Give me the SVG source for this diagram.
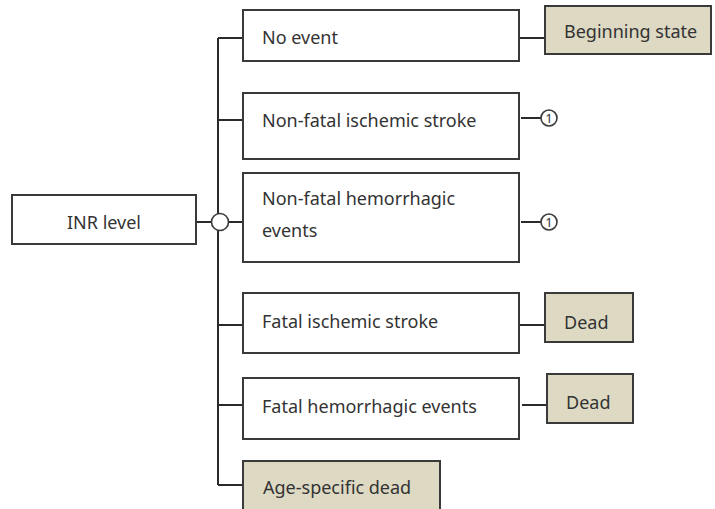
<svg xmlns="http://www.w3.org/2000/svg" width="715" height="509" viewBox="0 0 715 509">
<style>
.box{fill:#ffffff;stroke:#3a3a3a;stroke-width:2}
.st{fill:#DDD9C3;stroke:#3a3a3a;stroke-width:2}
.t{font-family:"Noto Sans","DejaVu Sans",sans-serif;font-size:18px;fill:#333333}
.ln{fill:none;stroke:#2a2a2a;stroke-width:2}
.c{fill:#ffffff;stroke:#3a3a3a;stroke-width:1.6}
.n{font-family:"Noto Sans","DejaVu Sans",sans-serif;font-size:13px;fill:#333333}
</style>
<rect width="715" height="509" fill="#ffffff"/>
<g id="connectors">
<path class="ln" d="M196 222H212"/>
<path class="ln" d="M218 38V485"/>
<path class="ln" d="M228 222H243"/>
<path class="ln" d="M218 38H243"/>
<path class="ln" d="M218 120H243"/>
<path class="ln" d="M218 325H243"/>
<path class="ln" d="M218 405H243"/>
<path class="ln" d="M218 485H243"/>
<path class="ln" d="M519 38H545"/>
<path class="ln" d="M521 118H541"/>
<path class="ln" d="M521 222H541"/>
<path class="ln" d="M519 325H545"/>
<path class="ln" d="M522 405H547"/>
</g>
<g id="chance">
<circle class="c" cx="220" cy="222" r="8.5"/>
</g>
<g id="inr">
<rect class="box" x="12" y="195" width="184" height="49"/>
<text class="t" x="104" y="229" text-anchor="middle">INR level</text>
</g>
<g id="no-event">
<rect class="box" x="243" y="10" width="276" height="51"/>
<text class="t" x="262" y="44">No event</text>
</g>
<g id="beginning">
<rect class="st" x="545" y="6" width="166" height="48"/>
<text class="t" x="564" y="38">Beginning state</text>
</g>
<g id="nf-ischemic">
<rect class="box" x="243" y="93" width="276" height="66"/>
<text class="t" x="262" y="127">Non-fatal ischemic stroke</text>
</g>
<g id="ref1a">
<circle class="c" cx="549" cy="118" r="8"/>
<text class="n" x="549" y="122.5" text-anchor="middle">1</text>
</g>
<g id="nf-hemorrhagic">
<rect class="box" x="243" y="173" width="276" height="89"/>
<text class="t" x="262" y="205">Non-fatal hemorrhagic</text>
<text class="t" x="262" y="237">events</text>
</g>
<g id="ref1b">
<circle class="c" cx="549" cy="222" r="8"/>
<text class="n" x="549" y="226.5" text-anchor="middle">1</text>
</g>
<g id="f-ischemic">
<rect class="box" x="243" y="293" width="276" height="60"/>
<text class="t" x="262" y="328">Fatal ischemic stroke</text>
</g>
<g id="dead1">
<rect class="st" x="545" y="293" width="88" height="49"/>
<text class="t" x="564" y="329">Dead</text>
</g>
<g id="f-hemorrhagic">
<rect class="box" x="243" y="378" width="276" height="61"/>
<text class="t" x="262" y="413">Fatal hemorrhagic events</text>
</g>
<g id="dead2">
<rect class="st" x="547" y="374" width="86" height="49"/>
<text class="t" x="566" y="409">Dead</text>
</g>
<g id="age-dead">
<rect class="st" x="243" y="461" width="197" height="52"/>
<text class="t" x="263" y="494">Age-specific dead</text>
</g>
</svg>
